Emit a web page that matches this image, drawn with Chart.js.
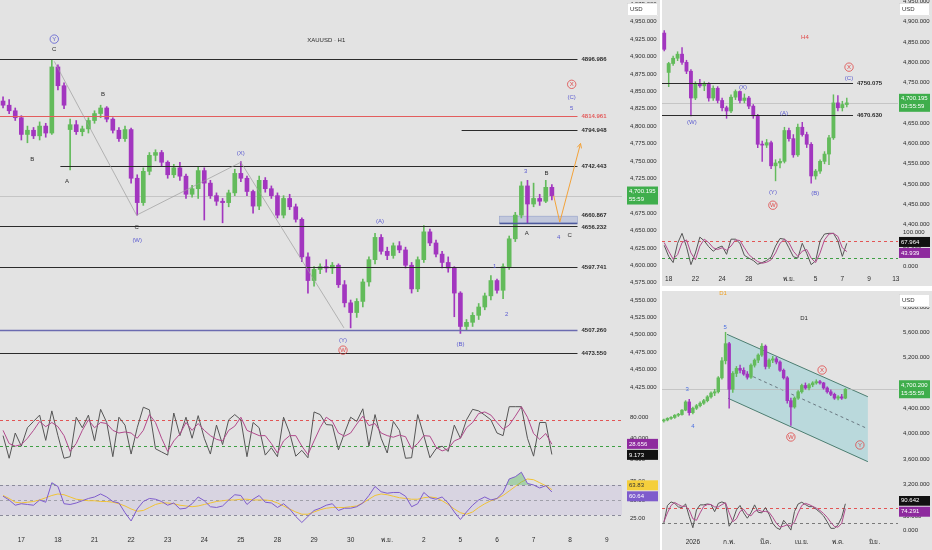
<!DOCTYPE html>
<html lang="th">
<head>
<meta charset="utf-8">
<title>XAUUSD multi timeframe</title>
<script src="https://cdn.jsdelivr.net/npm/chart.js@4.4.1/dist/chart.umd.min.js"></script>
<style>
  html, body { margin: 0; padding: 0; background: #ffffff; }
  body { width: 932px; height: 550px; position: relative; overflow: hidden; }
  .panel { position: absolute; background: #e3e3e3; }
  .cell { position: absolute; left: 0; }
</style>
</head>
<body>
<div class="panel" style="left:0;top:0;width:660px;height:550px">
  <div class="cell" style="top:0;width:660px;height:398px"><canvas id="mainPrice"></canvas></div>
  <div class="cell" style="top:398px;width:660px;height:68px"><canvas id="mainStoch"></canvas></div>
  <div class="cell" style="top:466px;width:660px;height:84px"><canvas id="mainRsi"></canvas></div>
</div>
<div class="panel" style="left:662px;top:0;width:270px;height:286px">
  <div class="cell" style="top:0;width:270px;height:229px"><canvas id="h4Price"></canvas></div>
  <div class="cell" style="top:229px;width:270px;height:57px"><canvas id="h4Stoch"></canvas></div>
</div>
<div class="panel" style="left:662px;top:291px;width:270px;height:259px">
  <div class="cell" style="top:0;width:270px;height:205px"><canvas id="d1Price"></canvas></div>
  <div class="cell" style="top:205px;width:270px;height:54px"><canvas id="d1Stoch"></canvas></div>
</div>

<script>
/* ---------- H1 (main) data ---------- */
const mainDays = ['16','17','18','21','22','23','24','25','28','29','30','พ.ย.','2','5','6','7','8','9'];
const mainDayBars = [3,6,6,6,6,6,6,6,6,6,6,6,6,6,6,6,6,3];
const mainTickDays = ['17','18','21','22','23','24','25','28','29','30','พ.ย.','2','5','6','7','8','9'];

const mainOpen  = [4836,4830,4822,4812,4788,4794,4786,4800,4790,4885,4858,4795,4802,4792,4796,4808,4818,4826,4810,4794,4782,4795,4725,4690,4735,4758,4762,4748,4730,4740,4728,4702,4710,4736,4718,4700,4692,4690,4704,4732,4725,4706,4685,4722,4710,4700,4672,4696,4684,4666,4612,4578,4594,4598,4596,4600,4572,4546,4532,4548,4576,4608,4640,4620,4614,4628,4622,4600,4566,4608,4648,4632,4616,4604,4596,4560,4512,4518,4528,4540,4556,4578,4564,4598,4638,4672,4714,4688,4696,4692,4712];
const mainHigh  = [4842,4838,4826,4815,4800,4798,4806,4804,4895,4888,4862,4810,4808,4800,4812,4822,4830,4828,4812,4798,4800,4797,4730,4740,4762,4766,4765,4750,4745,4748,4731,4715,4742,4740,4722,4704,4696,4708,4738,4749,4728,4708,4728,4726,4714,4704,4700,4702,4688,4668,4618,4598,4602,4608,4604,4602,4578,4550,4552,4580,4612,4646,4644,4626,4632,4634,4626,4604,4612,4657,4652,4636,4620,4612,4598,4562,4522,4532,4545,4560,4585,4580,4602,4642,4676,4720,4722,4718,4702,4722,4716];
const mainLow   = [4826,4818,4808,4780,4776,4782,4780,4784,4788,4852,4825,4737,4788,4786,4790,4804,4812,4806,4790,4778,4778,4718,4672,4686,4730,4750,4742,4725,4726,4722,4696,4698,4696,4665,4696,4686,4661,4684,4700,4720,4700,4675,4680,4705,4696,4668,4668,4680,4662,4605,4560,4570,4588,4590,4588,4568,4540,4510,4525,4540,4570,4602,4616,4608,4610,4618,4596,4560,4562,4604,4628,4612,4596,4590,4526,4502,4506,4512,4522,4536,4550,4560,4552,4594,4634,4668,4660,4684,4686,4690,4694];
const mainClose = [4830,4822,4812,4788,4794,4786,4800,4790,4885,4858,4830,4802,4792,4796,4808,4818,4826,4810,4794,4782,4795,4725,4690,4735,4758,4762,4748,4730,4740,4728,4702,4710,4736,4718,4700,4692,4690,4704,4732,4725,4706,4685,4722,4710,4700,4672,4696,4684,4666,4612,4578,4594,4598,4596,4600,4572,4546,4532,4548,4576,4608,4640,4620,4614,4628,4622,4600,4566,4608,4648,4632,4616,4604,4596,4560,4512,4518,4528,4540,4556,4578,4564,4598,4638,4672,4714,4688,4696,4692,4712,4700];
const mainLast = 4700.195;

const mainStochK = [45,2,50,25,60,72,84,36,92,45,2,5,80,60,84,35,95,70,5,80,65,10,60,99,94,20,14,8,88,45,80,40,83,40,10,65,28,75,85,75,5,70,60,8,22,5,80,50,6,17,3,90,85,66,65,18,50,80,72,96,25,85,40,12,72,55,2,3,85,45,3,20,25,15,65,40,75,95,92,84,75,50,45,100,100,100,40,6,70,70,9.173];
const mainStochD = [55,30,25,28,40,55,72,62,70,62,45,15,30,55,75,60,70,68,55,50,52,50,40,55,85,70,40,15,35,48,70,55,68,55,45,38,35,55,63,80,55,50,45,45,30,12,35,45,45,25,9,35,60,80,72,50,44,50,67,82,64,68,50,45,42,46,43,20,30,45,44,23,16,20,35,40,60,70,87,90,84,70,57,65,82,100,80,49,38,49,28.656];
const mainRsi   = [55,50,43,45,44,43,50,47,73,68,45,44,46,49,52,54,58,54,48,46,33,22,38,48,52,51,48,43,46,38,39,45,54,49,41,40,42,50,57,56,44,51,56,47,46,40,45,38,28,20,28,36,39,43,45,36,39,39,41,46,56,68,61,59,60,60,55,41,45,60,53,51,54,46,34,24,34,43,50,54,50,52,60,78,81,87,72,70,66,69,60.64];
const mainRsiMa = [56,52,47,46,47,48,50,53,56,58,57,54,51,50,49,49,48,48,47,45,42,38,35,36,40,44,46,46,45,43,42,41,42,44,46,48,49,50,50,51,51,50,50,50,49,46,42,38,34,31,31,34,37,39,40,40,40,41,42,46,51,56,58,57,55,53,52,51,51,53,54,53,49,44,38,33,31,34,40,45,49,52,56,62,68,74,78,77,73,69,63.83];

// horizontal levels: price, first bar (null = chart start)
const mainLevels    = [4896.986, 4814.961, 4794.948, 4742.443, 4660.867, 4656.232, 4597.741, 4507.260, 4473.550];
const mainLevelFrom = [null, null, 75.2, 9.4, 81.4, null, null, null, null];
const mainLevelEnd  = 94.2;
const mainZone      = [81.4, 4660.867, 4670.5];
const mainZigzag    = [[8.4,4893],[21.9,4672],[39,4748],[55.9,4510]];
const mainProjection = [[90.3,4700],[91.3,4662],[94.7,4775]];
const mainWavesDark = [['C',8.4,4911],['B',4.8,4753],['A',10.5,4721],['B',16.4,4846],['C',21.9,4655],['A',85.9,4646],['B',89.1,4732],['C',92.9,4643],['XAUUSD · H1',53,4924]];
const mainWavesBlue = [['(W)',22,4636],['(X)',39,4761],['(A)',61.8,4663],['(Y)',55.75,4492],['(B)',75,4487],['1',80.6,4599],['2',82.6,4530],['3',85.7,4735],['4',91.1,4640],['(C)',93.25,4842],['5',93.25,4826]];
const mainWavesRing = [['Y',8.4,4925]];
const mainWavesRed  = [['W',55.75,4478],['X',93.25,4860]];

/* ---------- H4 data ---------- */
const h4Days = ['17','18','21','22','23','24','25','28','29','30','พ.ย.','2','5','6','7','8','9','12','13'];
const h4DayBars = [1,3,3,3,3,3,3,3,3,3,3,3,3,3,3,3,3,3,1];
const h4TickDays = ['18','22','24','28','พ.ย.','5','7','9','13'];
const h4Open  = [4872,4775,4797,4810,4820,4800,4778,4712,4748,4742,4746,4712,4736,4706,4688,4680,4714,4728,4706,4712,4692,4668,4598,4596,4602,4545,4552,4556,4632,4612,4572,4640,4622,4598,4520,4532,4556,4574,4614,4700,4688,4696];
const h4High  = [4878,4800,4815,4826,4836,4805,4782,4752,4758,4752,4750,4742,4740,4712,4692,4720,4732,4730,4722,4716,4696,4672,4606,4610,4606,4560,4562,4640,4638,4622,4648,4652,4628,4602,4536,4560,4580,4620,4720,4718,4704,4712];
const h4Low   = [4828,4740,4792,4804,4795,4772,4668,4708,4738,4730,4704,4706,4700,4680,4662,4676,4708,4700,4700,4686,4662,4590,4556,4590,4538,4508,4540,4552,4606,4566,4568,4618,4590,4502,4512,4526,4550,4548,4610,4680,4680,4690];
const h4Close = [4832,4797,4810,4820,4800,4778,4712,4748,4742,4746,4712,4736,4706,4688,4680,4714,4728,4706,4712,4692,4668,4598,4596,4602,4545,4552,4556,4632,4612,4572,4640,4622,4598,4520,4532,4556,4574,4614,4700,4688,4696,4700];
const h4Last = 4700.195;
const h4StochK = [62,30,12,68,97,58,6,40,86,75,58,45,55,60,36,80,80,68,33,25,18,7,12,18,28,60,82,80,55,29,25,68,39,6,17,75,95,97,97,75,30,67.964];
const h4StochD = [70,45,22,35,70,78,40,20,60,80,70,55,50,55,48,60,78,76,55,35,24,15,10,13,20,40,68,80,70,45,30,45,50,25,12,40,78,95,97,88,55,43.939];
const h4Levels = [4750.075, 4670.630];
const h4LevelEnd = 42.4;
const h4WavesBlue = [['(C)',41.5,4761],['(X)',17.7,4739],['(W)',6.2,4653],['(A)',26.9,4675],['(Y)',24.4,4480],['(B)',33.9,4478]];
const h4WavesRed  = [['X',41.5,4788],['W',24.4,4448]];
const h4Title = ['H4',31.6,4862];

/* ---------- D1 data ---------- */
const d1Months = ['ธ.ค.','2026','ก.พ.','มี.ค.','เม.ย.','พ.ค.','มิ.ย.'];
const d1MonthBars = [8,10,10,10,10,10,7];
const d1TickMonths = ['2026','ก.พ.','มี.ค.','เม.ย.','พ.ค.','มิ.ย.'];
const d1Open  = [4200,4215,4240,4255,4290,4300,4370,4500,4330,4400,4440,4480,4520,4580,4640,4660,4880,5150,5420,4700,4950,5030,5000,4940,4890,5080,5160,5240,5380,5060,5160,5180,5130,5000,4880,4520,4420,4560,4660,4760,4720,4770,4800,4820,4800,4720,4660,4620,4560,4580,4560];
const d1High  = [4230,4250,4270,4300,4320,4380,4520,4540,4420,4460,4500,4540,4600,4660,4700,4900,5200,5600,5440,4980,5060,5080,5040,4980,5100,5180,5260,5420,5400,5180,5220,5210,5150,5020,4900,4560,4580,4680,4780,4800,4790,4820,4850,4840,4810,4740,4690,4640,4600,4620,4710];
const d1Low   = [4180,4200,4225,4240,4270,4290,4360,4290,4310,4380,4420,4460,4500,4560,4600,4640,4860,5100,4400,4650,4900,4960,4920,4860,4870,5050,5120,5220,5020,5030,5120,5100,4980,4860,4480,4130,4400,4540,4640,4700,4690,4740,4780,4780,4700,4640,4600,4540,4530,4540,4550];
const d1Close = [4215,4240,4255,4290,4300,4370,4500,4330,4400,4440,4480,4520,4580,4640,4660,4880,5150,5420,4700,4950,5030,5000,4940,4890,5080,5160,5240,5380,5060,5160,5180,5130,5000,4880,4520,4420,4560,4660,4760,4720,4770,4800,4820,4800,4720,4660,4620,4560,4580,4560,4700];
const d1Last = 4700.200;
const d1StochK = [25,85,97,92,80,78,90,48,10,70,87,87,90,88,64,92,97,92,15,35,70,85,60,42,60,87,62,60,78,55,25,10,4,35,20,2,65,90,96,88,81,81,72,62,50,30,8,8,20,45,90.642];
const d1StochD = [30,60,85,95,88,82,82,70,40,35,60,82,88,88,80,80,88,94,60,30,40,65,72,55,50,65,70,65,65,62,45,25,12,15,20,15,30,60,85,92,88,82,76,68,58,45,28,14,12,25,74.291];
const d1ChannelTop = [[17.4,5568],[56.2,4582]];
const d1ChannelBottom = [[17.7,4557],[56.2,3556]];
const d1ChannelMid = [[24.6,4899],[55.9,4083]];
const d1WavesBlue = [['5',16.9,5684],['3',6.4,4705],['4',8.0,4120]];
const d1WavesRed  = [['X',43.6,5004],['W',35,3946],['Y',54,3820]];
const d1Titles = [['D1',16.3,6221],['D1',38.6,5826]];

/* ---------- styling / helpers ---------- */
const FONT = '"Liberation Sans", Arial, sans-serif';
const UP = '#63bb5b';
const DOWN = '#a236bf';
const INK = '#2b2b2b';
const WAVE = '#5b5bd0';
const RED = '#e04848';

Chart.defaults.font.family = FONT;
Chart.defaults.font.size = 6;
Chart.defaults.color = INK;
Chart.defaults.animation = false;

const notes = {};
const axisNotes = {};

function slotLabels(names, counts, shown) {
    const out = [];
    names.forEach((n, d) => {
        for (let k = 0; k < counts[d]; k++) {
            out.push(k === 0 && shown.includes(n) ? n : '');
        }
    });
    return out;
}

function fmt(v, digits) {
    return (v + 0).toLocaleString('en-US', { minimumFractionDigits: digits, maximumFractionDigits: digits });
}

function yAxis(min, max, step, digits, width, pad) {
    return {
        position: 'right',
        min: min,
        max: max,
        grid: { display: false, drawTicks: false },
        border: { display: false },
        ticks: {
            padding: pad,
            color: INK,
            font: { size: 6 },
            callback: v => fmt(v, digits)
        },
        // round-number ticks only, whatever the range
        afterBuildTicks: axis => {
            const out = [];
            for (let v = Math.ceil(min / step) * step + 0; v <= max; v += step) out.push({ value: v });
            axis.ticks = out;
        },
        afterFit: s => { s.width = width; s.paddingTop = 0; s.paddingBottom = 0; }
    };
}

function xAxis(labels, height, pad) {
    const axis = {
        type: 'category',
        offset: true,
        display: height > 0,
        grid: { display: false, drawTicks: false },
        border: { display: false },
        ticks: {
            autoSkip: false,
            maxRotation: 0,
            minRotation: 0,
            padding: pad || 0,
            color: INK,
            font: { size: 6.5 },
            callback: (v, i) => labels[i] || null
        }
    };
    if (height > 0) {
        axis.afterFit = s => { s.height = height; s.paddingLeft = 0; s.paddingRight = 0; };
    }
    return axis;
}

function candleSets(o, h, l, c, body, wick) {
    const colors = c.map((v, i) => v >= o[i] ? UP : DOWN);
    return [{
        label: 'wick',
        data: l.map((v, i) => [v, h[i]]),
        backgroundColor: colors,
        barThickness: wick,
        grouped: false,
        borderWidth: 0,
        order: 2
    }, {
        label: 'body',
        data: o.map((v, i) => [v, c[i]]),
        backgroundColor: colors,
        barThickness: body,
        grouped: false,
        borderWidth: 0,
        minBarLength: 1,
        order: 1
    }];
}

function oscLine(data, color, extra) {
    return Object.assign({
        type: 'line',
        data: data,
        borderColor: color,
        borderWidth: 1,
        pointRadius: 0,
        tension: 0,
        fill: false
    }, extra || {});
}

function waveNotes(list, color, ring, size) {
    return list.map(w => ({ kind: 'text', text: w[0], at: [w[1], w[2]], color: color, circle: ring, size: size }));
}

// draws levels, zones, paths and labels in data space
function drawNotes(chart, layer) {
    const list = notes[chart.canvas.id] || [];
    const { ctx, chartArea: a, scales: { x, y } } = chart;
    const X = v => x.getPixelForValue(v);
    const Y = v => y.getPixelForValue(v);
    ctx.save();
    ctx.beginPath();
    ctx.rect(a.left, a.top, a.right - a.left, a.bottom - a.top);
    ctx.clip();
    list.filter(n => (n.layer || 'over') === layer).forEach(n => {
        ctx.setLineDash(n.dash || []);
        ctx.lineWidth = n.width || 1;
        ctx.strokeStyle = n.color || INK;
        if (n.kind === 'band') {
            const y0 = Y(n.to), y1 = Y(n.from);
            ctx.fillStyle = n.fill;
            ctx.fillRect(a.left, y0, a.right - a.left, y1 - y0);
        } else if (n.kind === 'level') {
            const yy = Math.round(Y(n.value)) + 0.5;
            const x0 = n.from == null ? a.left : X(n.from);
            const x1 = n.to == null ? a.right : X(n.to);
            ctx.beginPath();
            ctx.moveTo(x0, yy);
            ctx.lineTo(x1, yy);
            ctx.stroke();
            if (n.label) {
                ctx.setLineDash([]);
                ctx.font = 'bold 6px ' + FONT;
                ctx.textAlign = 'left';
                ctx.textBaseline = 'middle';
                ctx.fillStyle = n.labelColor || n.color;
                ctx.fillText(n.label, x1 + 4, yy + (n.labelDy || 0));
            }
        } else if (n.kind === 'zone') {
            const x0 = X(n.x0), x1 = X(n.x1), y0 = Y(n.v1), y1 = Y(n.v0);
            ctx.fillStyle = n.fill;
            ctx.fillRect(x0, y0, x1 - x0, y1 - y0);
            ctx.strokeRect(x0, y0, x1 - x0, y1 - y0);
        } else if (n.kind === 'path') {
            const pts = n.pts.map(p => [X(p[0]), Y(p[1])]);
            ctx.beginPath();
            pts.forEach((p, i) => i ? ctx.lineTo(p[0], p[1]) : ctx.moveTo(p[0], p[1]));
            if (n.fill) {
                ctx.closePath();
                ctx.fillStyle = n.fill;
                ctx.fill();
            } else {
                ctx.stroke();
            }
            if (n.arrow) {
                const [bx, by] = pts[pts.length - 2];
                const [ex, ey] = pts[pts.length - 1];
                const ang = Math.atan2(ey - by, ex - bx);
                ctx.beginPath();
                [-0.45, 0.45].forEach(d => {
                    ctx.moveTo(ex, ey);
                    ctx.lineTo(ex - 5 * Math.cos(ang + d), ey - 5 * Math.sin(ang + d));
                });
                ctx.stroke();
            }
        } else if (n.kind === 'text') {
            const px = X(n.at[0]), py = Y(n.at[1]);
            ctx.font = (n.size || 6) + 'px ' + FONT;
            ctx.textAlign = 'center';
            ctx.textBaseline = 'middle';
            if (n.circle) {
                ctx.beginPath();
                ctx.arc(px, py, 4.2, 0, Math.PI * 2);
                ctx.lineWidth = 0.8;
                ctx.strokeStyle = n.color;
                ctx.stroke();
            }
            ctx.fillStyle = n.color;
            ctx.fillText(n.text, px, py + 0.3);
        }
    });
    ctx.restore();
}

// price tags and the currency box on the value axis
function drawAxisNotes(chart) {
    const cfg = axisNotes[chart.canvas.id];
    if (!cfg) return;
    const { ctx, scales: { y } } = chart;
    const left = y.left + cfg.inset;
    const right = y.right - 2;
    ctx.save();
    ctx.font = '6px ' + FONT;
    ctx.textAlign = 'left';
    ctx.textBaseline = 'middle';
    const boxes = (cfg.tags || []).map(t => ({ t: t, h: t.lines.length * 8 + 2, c: y.getPixelForValue(t.value) }));
    boxes.sort((p, q) => p.c - q.c);
    for (let k = 1; k < boxes.length; k++) {
        const p = boxes[k - 1], q = boxes[k];
        const need = (p.h + q.h) / 2 + 1 - (q.c - p.c);
        if (need > 0) { p.c -= need / 2; q.c += need / 2; }
    }
    boxes.forEach(b => {
        const top = b.c - b.h / 2;
        ctx.fillStyle = b.t.bg;
        ctx.fillRect(left, top, right - left, b.h);
        ctx.fillStyle = b.t.fg;
        b.t.lines.forEach((s, j) => ctx.fillText(s, left + 2, top + 5 + j * 8));
    });
    if (cfg.usd) {
        ctx.fillStyle = '#ffffff';
        ctx.fillRect(left, 3, right - left, 13);
        ctx.strokeStyle = '#d0d0d0';
        ctx.lineWidth = 0.6;
        ctx.strokeRect(left + 0.5, 3.5, right - left - 1, 12);
        ctx.fillStyle = '#333333';
        ctx.fillText('USD', left + 3, 9.5);
    }
    ctx.restore();
}

Chart.register({
    id: 'tradeNotes',
    beforeDatasetsDraw: chart => drawNotes(chart, 'under'),
    afterDatasetsDraw: chart => drawNotes(chart, 'over'),
    afterDraw: chart => drawAxisNotes(chart)
});

function makeChart(id, type, labels, datasets, xOpts, yOpts) {
    return new Chart(document.getElementById(id), {
        type: type,
        data: { labels: labels, datasets: datasets },
        options: {
            responsive: true,
            maintainAspectRatio: false,
            animation: false,
            events: [],
            layout: { padding: 0 },
            plugins: { legend: { display: false }, tooltip: { enabled: false } },
            scales: { x: xOpts, y: yOpts }
        }
    });
}

function stochNotes(lowColor) {
    return [
        { kind: 'level', value: 75, color: '#e25555', dash: [3, 3], layer: 'under' },
        { kind: 'level', value: 25, color: lowColor, dash: [3, 3], layer: 'under' }
    ];
}

/* ---------- main H1 panel ---------- */
const mainSlots = slotLabels(mainDays, mainDayBars, mainTickDays);
const levelColors = [INK, '#e35d5d', INK, INK, '#4d5a9c', INK, INK, '#6b6bb0', INK];

notes.mainPrice = [
    { kind: 'level', value: mainLast, color: '#b8b8b8', width: 0.7, layer: 'under' },
    { kind: 'zone', x0: mainZone[0], x1: mainLevelEnd, v0: mainZone[1], v1: mainZone[2], fill: 'rgba(120,140,205,0.30)', color: 'rgba(90,110,180,0.5)', width: 0.6, layer: 'under' },
    ...mainLevels.map((v, i) => ({
        kind: 'level', value: v, from: mainLevelFrom[i], to: mainLevelEnd,
        color: levelColors[i], width: i === 4 || i === 7 ? 1.6 : 1.1,
        label: v.toFixed(3), labelColor: i === 1 ? '#e35d5d' : INK,
        labelDy: i === 4 ? -8 : (i === 5 ? 1 : 0)
    })),
    { kind: 'path', pts: mainZigzag, color: '#9c9c9c', width: 0.7 },
    { kind: 'path', pts: mainProjection, color: '#f2a23a', width: 1, arrow: true },
    ...waveNotes(mainWavesDark, INK, false),
    ...waveNotes(mainWavesBlue, WAVE, false),
    ...waveNotes(mainWavesRing, WAVE, true),
    ...waveNotes(mainWavesRed, RED, true)
];
axisNotes.mainPrice = { inset: 5, usd: true, tags: [{ value: mainLast, lines: [fmt(mainLast, 3), '55:59'], bg: '#3fae4c', fg: '#ffffff' }] };

makeChart('mainPrice', 'bar', mainSlots,
    candleSets(mainOpen, mainHigh, mainLow, mainClose, 4, 1),
    xAxis(mainSlots, 0),
    yAxis(4409.2, 4981.2, 25, 3, 38, 8));

notes.mainStoch = stochNotes('#3f9f45');
axisNotes.mainStoch = { inset: 5, tags: [
    { value: mainStochD[mainStochD.length - 1], lines: [fmt(mainStochD[mainStochD.length - 1], 3)], bg: '#8e2a9e', fg: '#ffffff' },
    { value: mainStochK[mainStochK.length - 1], lines: [fmt(mainStochK[mainStochK.length - 1], 3)], bg: '#111111', fg: '#ffffff' }
] };
makeChart('mainStoch', 'line', mainSlots, [
    oscLine(mainStochD, '#b04a8c'),
    oscLine(mainStochK, '#555555')
], xAxis(mainSlots, 0), yAxis(-12.7, 116.5, 40, 3, 38, 8));

notes.mainRsi = [
    { kind: 'band', from: 30, to: 70, fill: 'rgba(140,110,210,0.12)', layer: 'under' },
    { kind: 'level', value: 70, color: '#8b8b9b', dash: [3, 3], layer: 'under' },
    { kind: 'level', value: 50, color: '#a0a0aa', dash: [3, 3], layer: 'under' },
    { kind: 'level', value: 30, color: '#8b8b9b', dash: [3, 3], layer: 'under' }
];
axisNotes.mainRsi = { inset: 5, tags: [
    { value: mainRsiMa[mainRsiMa.length - 1], lines: [fmt(mainRsiMa[mainRsiMa.length - 1], 2)], bg: '#f5cf3c', fg: '#333333' },
    { value: mainRsi[mainRsi.length - 1], lines: [fmt(mainRsi[mainRsi.length - 1], 2)], bg: '#7e5ccc', fg: '#ffffff' }
] };
makeChart('mainRsi', 'line', mainSlots, [
    oscLine(mainRsi, '#7e5ccc', { fill: { target: { value: 70 }, above: 'rgba(90,185,100,0.45)', below: 'rgba(0,0,0,0)' } }),
    oscLine(mainRsiMa, '#f0c234')
], xAxis(mainSlots, 18, 4), yAxis(7.3, 95.3, 25, 2, 38, 8));

/* ---------- H4 panel ---------- */
const h4Slots = slotLabels(h4Days, h4DayBars, h4TickDays);
notes.h4Price = [
    { kind: 'level', value: h4Last, color: '#b8b8b8', width: 0.7, layer: 'under' },
    ...h4Levels.map(v => ({ kind: 'level', value: v, to: h4LevelEnd, color: INK, width: 1.1, label: v.toFixed(3) })),
    ...waveNotes(h4WavesBlue, WAVE, false),
    ...waveNotes(h4WavesRed, RED, true),
    { kind: 'text', text: h4Title[0], at: [h4Title[1], h4Title[2]], color: RED }
];
axisNotes.h4Price = { inset: 1, usd: true, tags: [{ value: h4Last, lines: [fmt(h4Last, 3), '03:55:59'], bg: '#3fae4c', fg: '#ffffff' }] };
makeChart('h4Price', 'bar', h4Slots,
    candleSets(h4Open, h4High, h4Low, h4Close, 3.2, 0.8),
    xAxis(h4Slots, 0),
    yAxis(4389.4, 4953.4, 50, 3, 34, 5));

notes.h4Stoch = stochNotes('#3f9f45');
axisNotes.h4Stoch = { inset: 1, tags: [
    { value: h4StochK[h4StochK.length - 1], lines: [fmt(h4StochK[h4StochK.length - 1], 3)], bg: '#111111', fg: '#ffffff' },
    { value: h4StochD[h4StochD.length - 1], lines: [fmt(h4StochD[h4StochD.length - 1], 3)], bg: '#8e2a9e', fg: '#ffffff' }
] };
makeChart('h4Stoch', 'line', h4Slots, [
    oscLine(h4StochD, '#b04a8c'),
    oscLine(h4StochK, '#555555')
], xAxis(h4Slots, 14, 3), yAxis(-15.4, 109.6, 50, 3, 34, 5));

/* ---------- D1 panel ---------- */
const d1Slots = slotLabels(d1Months, d1MonthBars, d1TickMonths);
notes.d1Price = [
    { kind: 'path', pts: [d1ChannelTop[0], d1ChannelTop[1], d1ChannelBottom[1], d1ChannelBottom[0]], fill: 'rgba(80,190,200,0.28)', layer: 'under' },
    { kind: 'path', pts: d1ChannelTop, color: '#4c7d70', width: 1, layer: 'under' },
    { kind: 'path', pts: d1ChannelBottom, color: '#4c7d70', width: 1, layer: 'under' },
    { kind: 'path', pts: d1ChannelMid, color: '#56606a', width: 0.8, dash: [3, 3], layer: 'under' },
    { kind: 'level', value: d1Last, color: '#b8b8b8', width: 0.7, layer: 'under' },
    ...waveNotes(d1WavesBlue, '#4a6ee0', false),
    ...waveNotes(d1WavesRed, RED, true),
    { kind: 'text', text: d1Titles[0][0], at: [d1Titles[0][1], d1Titles[0][2]], color: '#f0a020' },
    { kind: 'text', text: d1Titles[1][0], at: [d1Titles[1][1], d1Titles[1][2]], color: INK }
];
axisNotes.d1Price = { inset: 1, usd: true, tags: [{ value: d1Last, lines: [fmt(d1Last, 3), '15:55:59'], bg: '#3fae4c', fg: '#ffffff' }] };
makeChart('d1Price', 'bar', d1Slots,
    candleSets(d1Open, d1High, d1Low, d1Close, 2.8, 0.8),
    xAxis(d1Slots, 0),
    yAxis(3014, 6252, 400, 3, 34, 5));

notes.d1Stoch = stochNotes('#7a7a7a');
axisNotes.d1Stoch = { inset: 1, tags: [
    { value: d1StochK[d1StochK.length - 1], lines: [fmt(d1StochK[d1StochK.length - 1], 3)], bg: '#111111', fg: '#ffffff' },
    { value: d1StochD[d1StochD.length - 1], lines: [fmt(d1StochD[d1StochD.length - 1], 3)], bg: '#8e2a9e', fg: '#ffffff' }
] };
makeChart('d1Stoch', 'line', d1Slots, [
    oscLine(d1StochD, '#b04a8c'),
    oscLine(d1StochK, '#555555')
], xAxis(d1Slots, 15, 3), yAxis(-14.5, 116.9, 50, 3, 34, 5));
</script>
</body>
</html>
